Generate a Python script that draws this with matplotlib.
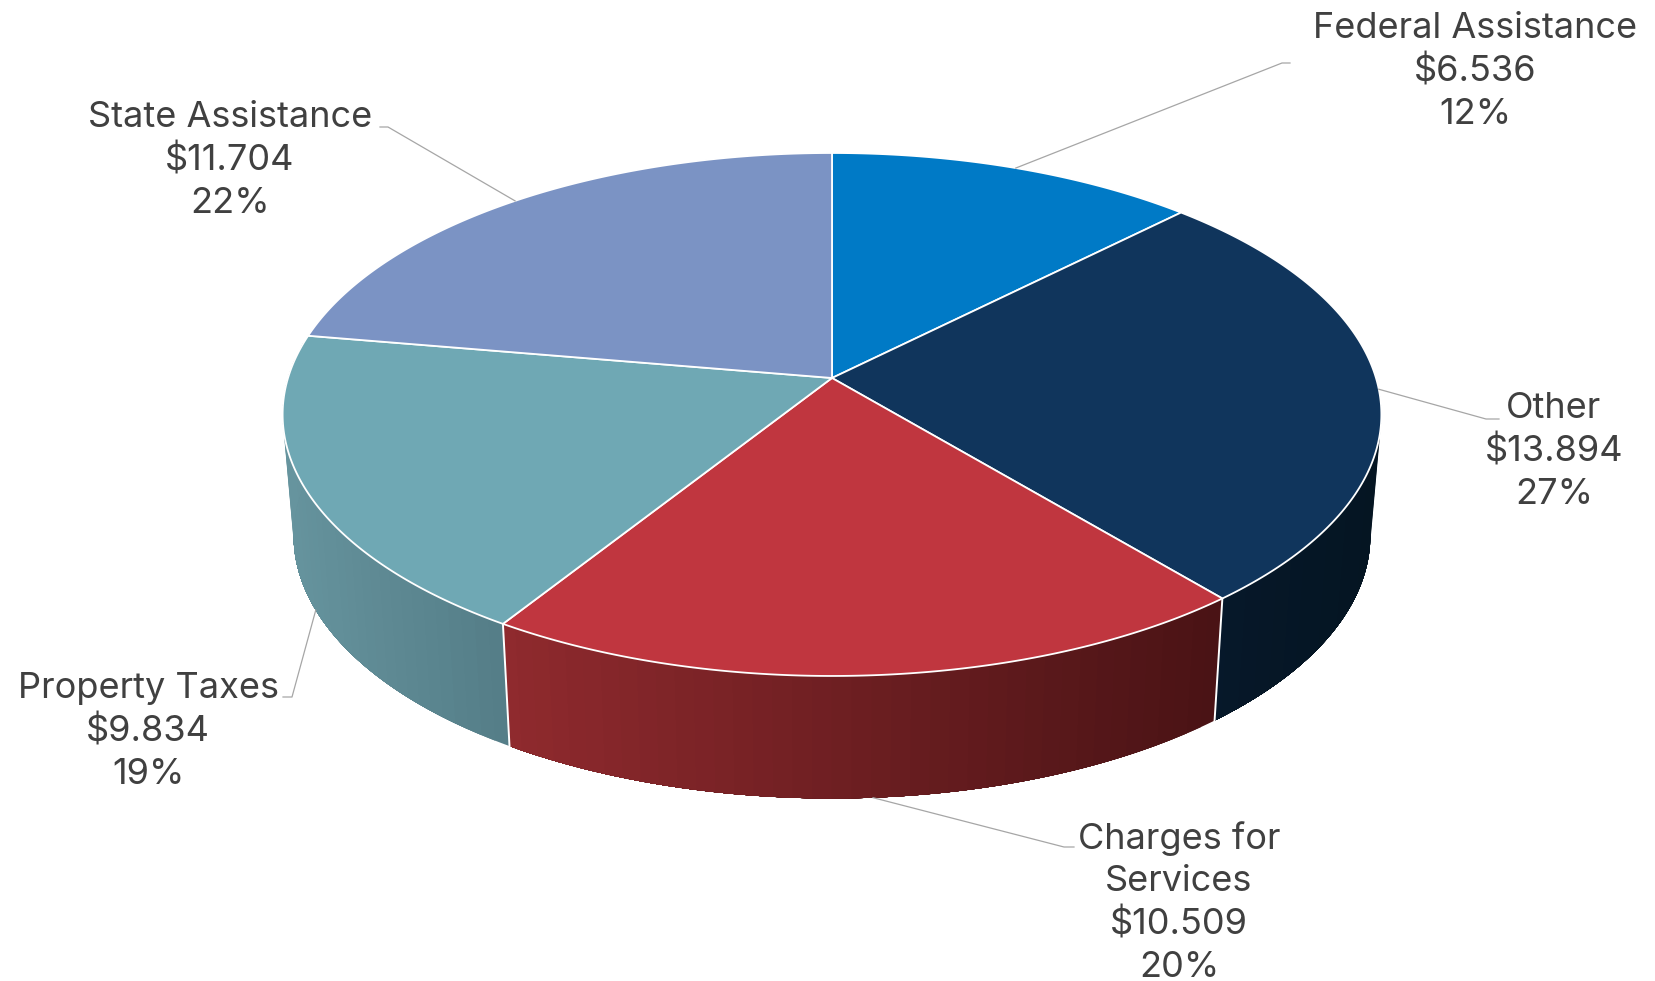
import numpy as np
import matplotlib.pyplot as plt
from matplotlib.colors import to_rgb

# values in $ millions, clockwise from 12 o'clock
categories = ['Federal Assistance', 'Other', 'Charges for\nServices', 'Property Taxes', 'State Assistance']
values = [6.536, 13.894, 10.509, 9.834, 11.704]
value_labels = ['$6.536', '$13.894', '$10.509', '$9.834', '$11.704']
pct_labels = ['12%', '27%', '20%', '19%', '22%']

top_colors = ['#007AC6', '#10355C', '#C0363F', '#6FA8B4', '#7B93C4']
wall_left = ['#005a92', '#06182a', '#902a2e', '#66949e', '#5a6d90']
wall_right = ['#005a92', '#051522', '#4a1315', '#557e88', '#5a6d90']

# label centre (x, y of first line), leader elbow, leader end
label_pos = [(1475, 26), (1554, 406), (1179, 835), (148, 686), (230, 115)]
elbows = [((1282, 63), (1290, 63)), ((1486, 419), (1499, 419)),
          ((1064, 847), (1074, 847)), ((292, 697), (283, 697)), ((388, 127), (380, 127))]
on_bottom_rim = [False, False, True, True, False]

# perspective of the pie disc, in pixels
CX, CY = 832, 378
A, B, K = 544, 256.4, 0.1395
DEPTH, SHRINK_X, SHRINK_Y = 121, 0.98, 1.005


def project(theta, bottom=False):
    # theta measured clockwise from the top of the disc
    x, y = np.sin(theta), np.cos(theta)
    px = A * x / (1 + K * y)
    py = B * y / (1 + K * y)
    if bottom:
        return CX + SHRINK_X * px, CY + DEPTH - SHRINK_Y * py
    return CX + px, CY - py


fig = plt.figure(figsize=(16.55, 9.81), dpi=100)
ax = fig.add_axes([0, 0, 1, 1])
ax.set_xlim(0, 1655)
ax.set_ylim(981, 0)
ax.axis('off')

edges = np.cumsum([0] + values) / sum(values) * 2 * np.pi

# side wall first, painted as overlapping bands for the horizontal shading
for i in range(len(values)):
    t = np.linspace(edges[i], edges[i + 1], 200)
    t = t[np.cos(t) < 0.15]
    if len(t) < 2:
        continue
    xt, yt = project(t)
    xb, yb = project(t, bottom=True)
    xlo, xhi = xt.min(), xt.max()
    for j in range(0, len(t) - 1, 5):
        f = (xt[j] - xlo) / (xhi - xlo)
        c = (1 - f) * np.array(to_rgb(wall_left[i])) + f * np.array(to_rgb(wall_right[i]))
        ax.fill(np.r_[xt[j:], xb[j:][::-1]], np.r_[yt[j:], yb[j:][::-1]], facecolor=c, edgecolor='none',
                zorder=2 + j * 1e-4)

# seams on the visible wall
for e in edges[:-1]:
    if np.cos(e) < 0:
        x0, y0 = project(e)
        x1, y1 = project(e, bottom=True)
        ax.plot([x0, x1], [y0, y1], color='white', lw=1.4, zorder=3)

# top faces
for i in range(len(values)):
    t = np.linspace(edges[i], edges[i + 1], 200)
    x, y = project(t)
    ax.fill(np.r_[CX, x], np.r_[CY, y], facecolor=top_colors[i], edgecolor='white', lw=1.3,
            joinstyle='round', zorder=4)

# labels and leaders
for i in range(len(values)):
    mid = (edges[i] + edges[i + 1]) / 2
    x0, y0 = project(mid, bottom=on_bottom_rim[i])
    (x1, y1), (x2, y2) = elbows[i]
    ax.plot([x0, x1, x2], [y0, y1, y2], color='#a6a6a6', lw=0.9, zorder=5)
    text = categories[i] + '\n' + value_labels[i] + '\n' + pct_labels[i]
    ax.text(label_pos[i][0], label_pos[i][1] - 14, text, family='Inter', fontsize=26, color='#404040',
            ha='center', va='top', linespacing=1.36, multialignment='center', zorder=6)

fig.savefig('out.png', dpi=100, facecolor='white')
